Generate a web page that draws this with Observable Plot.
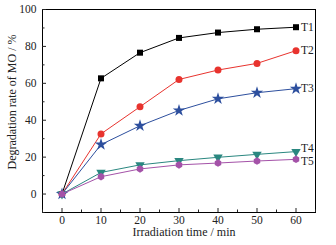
<!DOCTYPE html>
<html><head><meta charset="utf-8">
<script src="https://cdn.jsdelivr.net/npm/d3@7"></script>
<script src="https://cdn.jsdelivr.net/npm/@observablehq/plot@0.6"></script>
<style>body{margin:0;background:#fff}</style>
</head><body><div id="chart"></div>
<script>
const times = [0, 10, 20, 30, 40, 50, 60];
const seriesNames = ["T1", "T2", "T3", "T4", "T5"];
const T1 = [0, 62.7, 76.6, 84.6, 87.5, 89.3, 90.4];
const T2 = [0, 32.6, 47.3, 62.1, 67.2, 70.8, 77.7];
const T3 = [0, 26.8, 37.0, 45.3, 51.6, 54.9, 57.1];
const T4 = [0, 11.7, 15.8, 18.1, 19.9, 21.5, 23.0];
const T5 = [0, 9.4, 13.6, 15.8, 16.8, 17.9, 18.8];
const colors = ["#000000", "#e8332e", "#2d4f9e", "#2a8780", "#a452a8"];
const xTicks = [0, 10, 20, 30, 40, 50, 60];
const xMinor = [-5, 5, 15, 25, 35, 45, 55, 65];
const yTicks = [0, 20, 40, 60, 80, 100];
const yMinor = [-10, 10, 30, 50, 70, 90];

const hexagon = {
  draw(ctx, size) {
    const r = Math.sqrt(size / (3 * Math.sqrt(3) / 2));
    for (let i = 0; i < 6; i++) {
      const a = Math.PI / 6 + i * Math.PI / 3;
      const px = r * Math.cos(a), py = r * Math.sin(a);
      if (i === 0) ctx.moveTo(px, py); else ctx.lineTo(px, py);
    }
    ctx.closePath();
  }
};
const symbols = ["square", "circle", "star", "triangle", hexagon];
const rotations = [0, 0, 0, 180, 0];
const radii = [3.4, 3.5, 3.9, 3.5, 3.4];

const valuesBySeries = [T1, T2, T3, T4, T5];
const data = seriesNames.flatMap((s, i) => times.map((t, j) => ({series: s, t, v: valuesBySeries[i][j]})));
const last = data.filter(d => d.t === 60);

const font = "Liberation Serif, Times New Roman, serif";
const marks = [
  Plot.frame({stroke: "#000", strokeWidth: 1}),
  Plot.axisX({ticks: xTicks, tickSize: -4, tickPadding: 7, fontSize: 11.5, label: null}),
  Plot.axisX({ticks: xMinor, tickSize: -2.5, tickFormat: () => "", label: null}),
  Plot.axisY({ticks: yTicks, tickSize: -4, tickPadding: 10, fontSize: 11.5, label: null}),
  Plot.axisY({ticks: yMinor, tickSize: -2.5, tickFormat: () => "", label: null}),
];
seriesNames.forEach((s, i) => {
  const d = data.filter(e => e.series === s);
  marks.push(Plot.line(d, {x: "t", y: "v", stroke: colors[i], strokeWidth: 1}));
  marks.push(Plot.dot(d, {x: "t", y: "v", symbol: () => symbols[i], fill: colors[i], stroke: "none", r: radii[i], rotate: rotations[i]}));
});
marks.push(Plot.text(last.filter(d => ["T1", "T2", "T3"].includes(d.series)), {x: "t", y: "v", text: "series", dx: 5, textAnchor: "start", fontSize: 11.5}));
marks.push(Plot.text(last.filter(d => d.series === "T4"), {x: "t", y: "v", text: "series", dx: 5, dy: -3, textAnchor: "start", fontSize: 11.5}));
marks.push(Plot.text(last.filter(d => d.series === "T5"), {x: "t", y: "v", text: "series", dx: 5, dy: 2, textAnchor: "start", fontSize: 11.5}));

const chart = Plot.plot({
  width: 336,
  height: 245,
  marginLeft: 42,
  marginTop: 9,
  marginRight: 21,
  marginBottom: 33,
  style: {fontFamily: font, fontSize: "11.5px", color: "#222", background: "#fff"},
  x: {domain: [-5, 65], label: null},
  y: {domain: [-10, 100], label: null},
  marks: [
    ...marks,
    Plot.text(["Irradiation time / min"], {frameAnchor: "bottom", dy: 23, dx: 5, fontSize: 12}),
    Plot.text(["Degradation rate of MO / %"], {frameAnchor: "left", textAnchor: "middle", dx: -30, dy: -9, rotate: -90, fontSize: 12})
  ]
});
document.getElementById("chart").appendChild(chart);
</script>
</body></html>
